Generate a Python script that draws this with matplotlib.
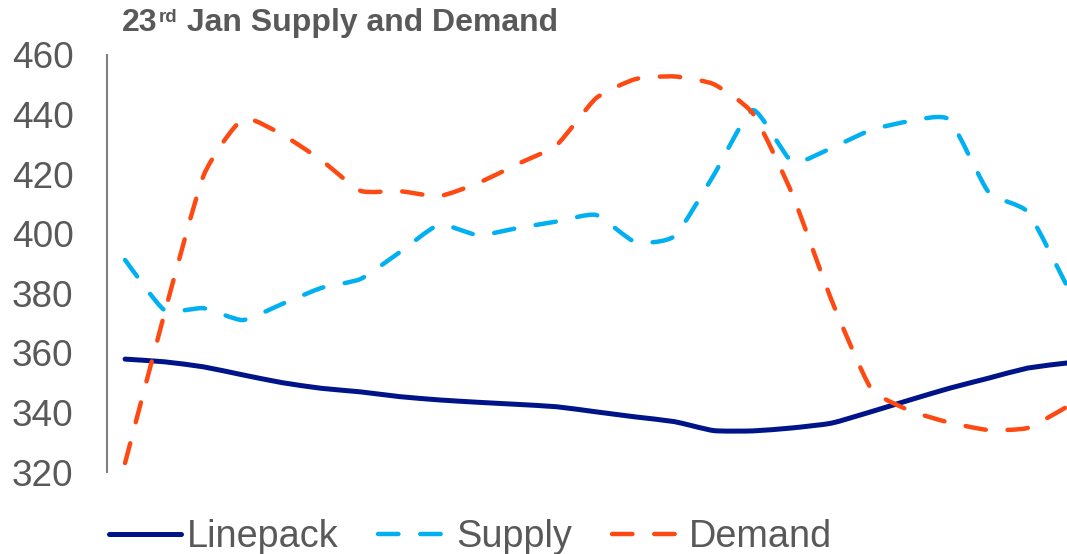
import numpy as np
import matplotlib
matplotlib.use('Agg')
import matplotlib.pyplot as plt
from matplotlib.path import Path
from matplotlib.patches import PathPatch
from matplotlib.lines import Line2D

plt.rcParams['font.family'] = ['Liberation Sans', 'DejaVu Sans']

# hourly readings, 23rd Jan
hours = np.arange(25)
linepack = [357.9, 357.0, 355.3, 352.6, 350.0, 348.1, 346.9, 345.3, 344.2, 343.4,
            342.7, 341.9, 340.2, 338.5, 336.9, 333.9, 333.8, 334.8, 336.4, 340.2,
            344.2, 348.1, 351.5, 354.9, 356.6]
supply = [391.2, 374.4, 375.0, 371.0, 376.4, 381.8, 384.8, 393.8, 403.0, 399.5,
          401.9, 404.1, 406.3, 397.2, 399.2, 419.7, 441.5, 424.1, 428.8, 434.8,
          437.8, 438.3, 414.0, 407.3, 382.4]
demand = [323.0, 373.0, 419.5, 438.5, 433.3, 424.7, 414.4, 414.3, 412.6, 417.0,
          423.4, 429.8, 445.5, 451.9, 452.8, 450.2, 440.3, 413.3, 377.7, 348.2,
          340.6, 336.6, 334.1, 334.8, 341.9]
y_ticks = [320, 340, 360, 380, 400, 420, 440, 460]

GREY = '#595959'
styles = {
    'Linepack': dict(color='#001489', lw=3.6, ls='-'),
    'Supply': dict(color='#00B0F0', lw=3.2, ls=(0, (4.6, 4.9))),
    'Demand': dict(color='#FE4A12', lw=3.2, ls=(0, (4.6, 4.9))),
}


def smooth_path(x, y, k=0.09):
    # bezier through every point with gently rounded corners
    p = np.column_stack([x, y]).astype(float)
    ext = np.vstack([p[0], p, p[-1]])
    verts = [p[0]]
    codes = [Path.MOVETO]
    for i in range(len(p) - 1):
        p0, p1, p2, p3 = ext[i], ext[i + 1], ext[i + 2], ext[i + 3]
        c1 = p1 + (p2 - p0) * k
        c2 = p2 - (p3 - p1) * k
        verts += [c1, c2, p2]
        codes += [Path.CURVE4] * 3
    return Path(verts, codes)


fig = plt.figure(figsize=(10.67, 5.54), dpi=100)
ax = fig.add_axes([107 / 1067, 1 - 472 / 554, 960 / 1067, 417 / 554])

handles = []
for name, vals in [('Linepack', linepack), ('Supply', supply), ('Demand', demand)]:
    st = styles[name]
    patch = PathPatch(smooth_path(hours, vals), facecolor='none', edgecolor=st['color'],
                      lw=st['lw'], ls=st['ls'], capstyle='round', joinstyle='round')
    ax.add_patch(patch)
    handles.append(Line2D([], [], color=st['color'], lw=st['lw'], ls=st['ls'],
                          dash_capstyle='round', solid_capstyle='round', label=name))

ax.set_xlim(-0.46, 24)
ax.set_ylim(320, 460)
ax.set_yticks(y_ticks)
ax.set_xticks([])
ax.tick_params(axis='y', length=0, pad=24, labelsize=26.6, labelcolor=GREY)
for side in ['top', 'right', 'bottom']:
    ax.spines[side].set_visible(False)
ax.spines['left'].set_color('#808080')
ax.spines['left'].set_linewidth(1.5)

# title with superscript ordinal
t1 = fig.text(122 / 1067, 1 - 31 / 554, '23', fontsize=23, fontweight='bold',
              color=GREY, va='baseline', ha='left')
t2 = ax.annotate('rd', xy=(1, 1), xycoords=t1, xytext=(1, -1), textcoords='offset points',
                 fontsize=13.5, fontweight='bold', color=GREY, va='top', ha='left',
                 annotation_clip=False)
ax.annotate(' Jan Supply and Demand', xy=(1, 0), xycoords=(t2, t1),
            fontsize=23, fontweight='bold', color=GREY, va='bottom', ha='left',
            annotation_clip=False)

fig.legend(handles=handles, loc='center left', bbox_to_anchor=(109 / 1067, 1 - 537 / 554),
           ncol=3, frameon=False, fontsize=27.3, labelcolor=GREY, handlelength=1.9,
           handletextpad=0.15, columnspacing=1.05, borderpad=0, borderaxespad=0)

fig.savefig('out.png', dpi=100)
